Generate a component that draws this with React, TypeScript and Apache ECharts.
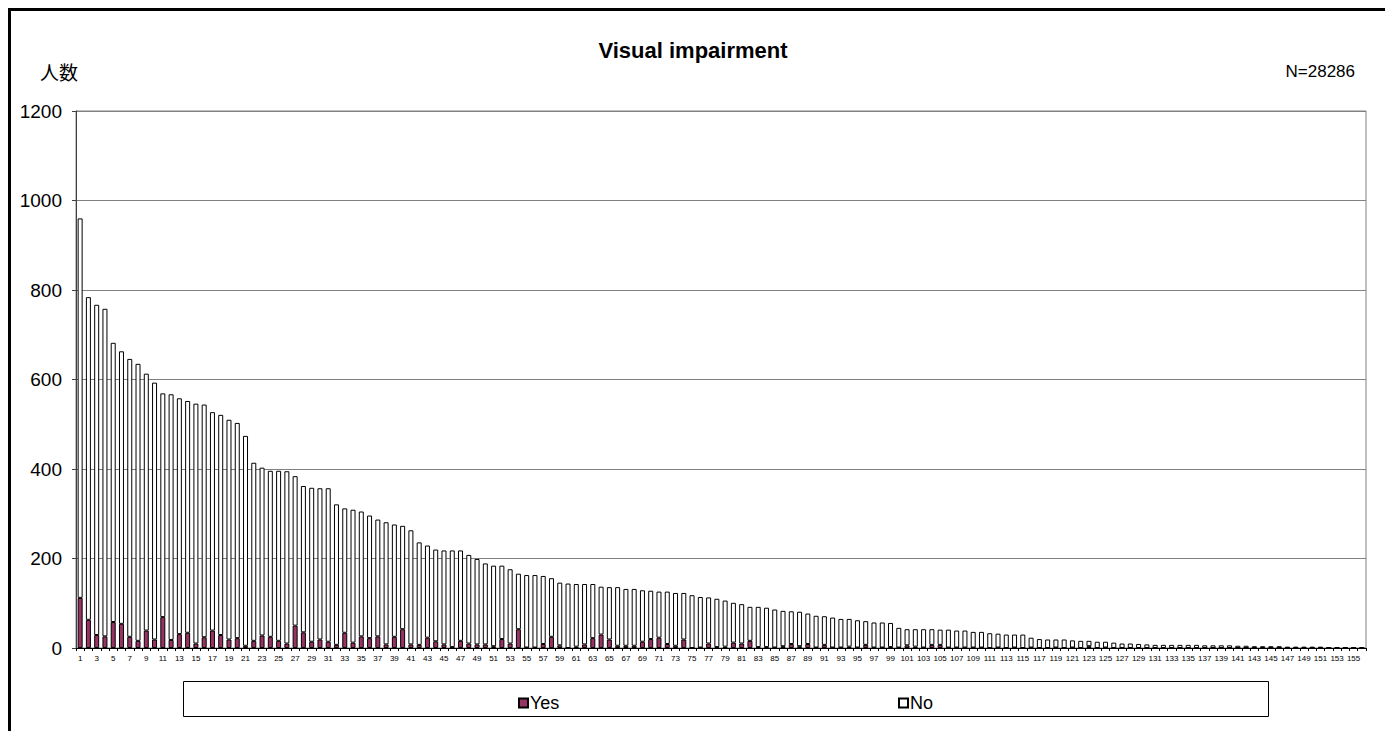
import React, { useEffect, useRef } from "react";
import * as echarts from "echarts";

const categories: string[] = Array.from({ length: 156 }, (_, i) => String(i + 1));

const totals: number[] = [
  960, 784, 767, 758, 682, 663, 646, 635, 613, 593,
  569, 567, 558, 552, 546, 544, 527, 521, 510, 503,
  474, 414, 403, 396, 396, 395, 384, 362, 358, 357,
  357, 321, 312, 309, 305, 296, 287, 281, 276, 273,
  263, 236, 229, 220, 218, 218, 218, 208, 199, 189,
  184, 184, 176, 166, 163, 163, 161, 156, 146, 144,
  143, 143, 143, 137, 136, 136, 132, 132, 129, 128,
  126, 126, 123, 123, 118, 114, 113, 110, 106, 101,
  98, 92, 92, 90, 86, 83, 82, 81, 77, 72,
  71, 68, 65, 65, 62, 60, 57, 57, 56, 45,
  42, 42, 42, 42, 41, 41, 39, 39, 36, 36,
  33, 32, 30, 30, 30, 23, 20, 19, 19, 19,
  17, 16, 16, 14, 14, 12, 10, 10, 9, 8,
  7, 7, 7, 7, 7, 7, 6, 6, 6, 6,
  5, 5, 4, 4, 4, 4, 3, 3, 3, 3,
  3, 2, 2, 2, 2, 2,
];

const yesValues: number[] = [
  112, 63, 29, 26, 58, 54, 25, 16, 39, 19,
  69, 18, 31, 34, 10, 24, 39, 29, 19, 22,
  5, 16, 28, 25, 16, 10, 50, 35, 14, 19,
  14, 7, 34, 12, 26, 22, 26, 8, 25, 42,
  8, 7, 23, 15, 8, 2, 16, 10, 8, 8,
  4, 20, 10, 42, 1, 1, 9, 25, 6, 0,
  3, 8, 22, 30, 19, 5, 5, 5, 14, 20,
  23, 9, 5, 19, 0, 1, 10, 2, 3, 12,
  10, 16, 2, 2, 1, 4, 9, 4, 9, 1,
  7, 1, 1, 3, 1, 7, 1, 1, 2, 1,
  6, 3, 1, 7, 7, 1, 1, 1, 1, 1,
  0, 1, 0, 1, 0, 1, 0, 0, 1, 0,
  1, 0, 4, 0, 1, 0, 0, 0, 0, 0,
  0, 0, 0, 0, 0, 0, 0, 0, 0, 0,
  0, 0, 0, 0, 0, 0, 0, 0, 0, 0,
  0, 0, 0, 0, 0, 0,
];

const noValues: number[] = totals.map((t, i) => t - yesValues[i]);

const yTicks = { min: 0, max: 1200, interval: 200 };
const FONT = "'Liberation Sans', 'Noto Sans CJK JP', sans-serif";

export default function App() {
  const ref = useRef<HTMLDivElement>(null);
  useEffect(() => {
    if (!ref.current) return;
    const chart = echarts.init(ref.current, undefined, { renderer: "svg" });
    const legendText = { fontSize: 18, color: "#000", fontFamily: FONT, padding: [0, 0, 0, -3] };
    chart.setOption({
      animation: false,
      backgroundColor: "#ffffff",
      textStyle: { fontFamily: FONT, color: "#000" },
      grid: {
        left: 65,
        right: 19,
        top: 100,
        bottom: 83,
        show: true,
        borderColor: "#808080",
        borderWidth: 1,
        backgroundColor: "transparent",
      },
      legend: [
        {
          data: [{ name: "Yes", icon: "rect" }],
          left: 502,
          top: 678,
          itemWidth: 9,
          itemHeight: 9,
          itemGap: 0,
          textStyle: legendText,
        },
        {
          data: [{ name: "No", icon: "rect" }],
          left: 882,
          top: 678,
          itemWidth: 9,
          itemHeight: 9,
          itemGap: 0,
          textStyle: legendText,
        },
      ],
      xAxis: {
        type: "category",
        data: categories,
        axisLine: { show: true, lineStyle: { color: "#000", width: 1 } },
        axisTick: { show: true, interval: 0, length: 3, lineStyle: { color: "#000" } },
        axisLabel: { interval: 1, fontSize: 8, color: "#000", margin: 6, fontFamily: FONT },
        splitLine: { show: false },
      },
      yAxis: {
        type: "value",
        min: yTicks.min,
        max: yTicks.max,
        interval: yTicks.interval,
        axisLine: { show: true, lineStyle: { color: "#404040", width: 1 } },
        axisTick: { show: true, length: 4, lineStyle: { color: "#404040" } },
        axisLabel: {
          fontSize: 19,
          color: "#000",
          margin: 14,
          fontFamily: FONT,
          formatter: (v: number) => String(v),
        },
        splitLine: { show: true, lineStyle: { color: "#808080", width: 1 } },
      },
      series: [
        {
          name: "Yes",
          type: "bar",
          stack: "total",
          data: yesValues,
          barWidth: 5,
          itemStyle: { color: "#993366", borderColor: "#000", borderWidth: 1 },
        },
        {
          name: "No",
          type: "bar",
          stack: "total",
          data: noValues,
          barWidth: 5,
          itemStyle: { color: "#ffffff", borderColor: "#000", borderWidth: 1 },
        },
      ],
      graphic: [
        {
          type: "text",
          x: 682,
          y: 39,
          style: {
            text: "Visual impairment",
            fontSize: 22,
            fontWeight: "bold",
            fontFamily: FONT,
            fill: "#000",
            align: "center",
            verticalAlign: "middle",
          },
        },
        {
          type: "text",
          x: 29,
          y: 60,
          style: {
            text: "人数",
            fontSize: 19,
            fontFamily: "'Noto Sans CJK JP', sans-serif",
            fill: "#000",
            align: "left",
            verticalAlign: "middle",
          },
        },
        {
          type: "text",
          x: 1344,
          y: 60,
          style: {
            text: "N=28286",
            fontSize: 17,
            fontFamily: FONT,
            fill: "#000",
            align: "right",
            verticalAlign: "middle",
          },
        },
        {
          type: "rect",
          shape: { x: 172.5, y: 670.5, width: 1085, height: 35 },
          style: { fill: "none", stroke: "#000", lineWidth: 1 },
          z: -1,
        },
      ],
    });
    return () => chart.dispose();
  }, []);

  return (
    <div
      style={{
        position: "fixed",
        left: 8,
        top: 8,
        width: 1377,
        height: 723,
        boxSizing: "border-box",
        borderTop: "3px solid #000",
        borderLeft: "3px solid #000",
        background: "#fff",
        overflow: "hidden",
      }}
    >
      <div ref={ref} style={{ width: 1374, height: 720 }} />
    </div>
  );
}
